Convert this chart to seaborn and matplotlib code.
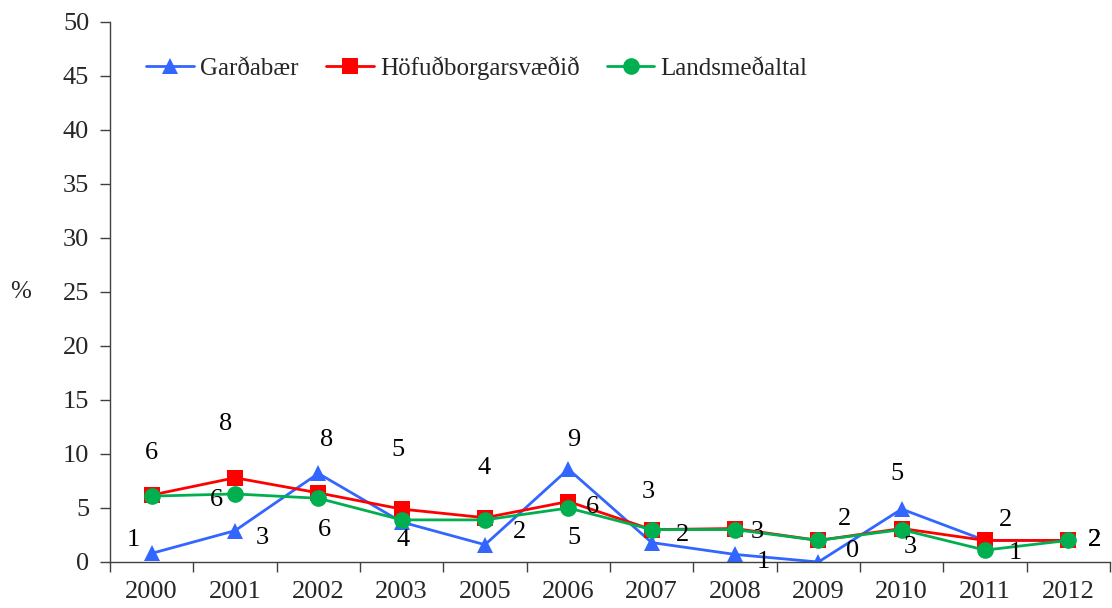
import numpy as np
import pandas as pd
import matplotlib
matplotlib.use("Agg")
import matplotlib.pyplot as plt
import seaborn as sns

years = ["2000", "2001", "2002", "2003", "2005", "2006", "2007", "2008", "2009", "2010", "2011", "2012"]
gardabaer = [0.8, 2.9, 8.2, 3.7, 1.6, 8.6, 1.8, 0.7, 0.0, 4.9, 2.0, 2.0]
hofudborg = [6.2, 7.8, 6.4, 4.9, 4.1, 5.6, 3.0, 3.1, 2.0, 3.1, 2.0, 2.0]
landsmedaltal = [6.1, 6.3, 5.9, 3.9, 3.9, 5.0, 3.0, 3.0, 2.0, 3.0, 1.1, 2.0]
series_names = ["Garðabær", "Höfuðborgarsvæðið", "Landsmeðaltal"]
colors = ["#3366FF", "#FF0000", "#00B050"]
markers = ["^", "s", "o"]

sns.set_theme(style="white")
plt.rcParams["font.family"] = ["Liberation Serif", "DejaVu Serif"]

df = pd.DataFrame({
    "year": years * 3,
    "value": gardabaer + hofudborg + landsmedaltal,
    "series": [series_names[0]] * len(years) + [series_names[1]] * len(years) + [series_names[2]] * len(years),
})

fig = plt.figure(figsize=(11.12, 6.08), dpi=100)
ax = fig.add_axes([110 / 1112, 1 - 562 / 608, 1000 / 1112, 540 / 608])

sns.lineplot(data=df, x="year", y="value", hue="series", style="series",
             palette=colors, markers=markers, dashes=False, markersize=12,
             linewidth=2, markeredgewidth=0, ax=ax, sort=False)

# data labels: (series index, year index, dx px, dy px)
label_layout = [
    (0, 0, -18, 13), (1, 0, 0, 42),
    (1, 1, -9, 54), (2, 1, -19, -6), (0, 1, 27, -7),
    (0, 2, 8, 33), (2, 2, 6, -32),
    (1, 3, -4, 59), (0, 3, 1, -18),
    (1, 4, -1, 50), (0, 4, 34, 13),
    (0, 5, 5, 29), (1, 5, 24, -5), (2, 5, 6, -30),
    (1, 6, -3, 38), (0, 6, 31, 8),
    (1, 7, 22, -3), (0, 7, 28, -8),
    (2, 8, 26, 21), (0, 8, 34, 11),
    (0, 9, -5, 35), (2, 9, 9, -17),
    (1, 10, 21, 20), (2, 10, 30, -3),
    (0, 11, 26, 0), (1, 11, 26, 0), (2, 11, 26, 0),
]
all_series = [gardabaer, hofudborg, landsmedaltal]
for s, i, dx, dy in label_layout:
    v = all_series[s][i]
    ax.annotate(str(int(np.floor(v + 0.5))), xy=(i, v), xytext=(dx, dy),
                textcoords="offset pixels", ha="center", va="center",
                fontsize=19, color="black")

ax.set_ylim(0, 50)
ax.set_xlim(-0.5, len(years) - 0.5)
ax.set_yticks(np.arange(0, 51, 5))
ax.set_xticks(np.arange(len(years)))
ax.set_xticklabels(years)
ax.set_xticks(np.arange(-0.5, len(years), 1), minor=True)
ax.tick_params(axis="x", which="major", length=0, pad=14, labelsize=19)
ax.tick_params(axis="x", which="minor", length=7, width=1, color="#404040", direction="out", bottom=True)
ax.tick_params(axis="y", which="major", length=7, width=1, color="#404040", direction="out", left=True, pad=8, labelsize=19)

ax.set_xlabel("")
ax.set_ylabel("%", rotation=0, fontsize=18, va="center", ha="center")
ax.yaxis.set_label_coords(-0.089, 0.5)

for side in ["top", "right"]:
    ax.spines[side].set_visible(False)
for side in ["left", "bottom"]:
    ax.spines[side].set_color("#404040")
    ax.spines[side].set_linewidth(1)

handles, labels = ax.get_legend_handles_labels()
ax.legend(handles, labels, loc="center", bbox_to_anchor=(0.367, 0.915), ncol=3,
          frameon=False, fontsize=18, handlelength=1.9, columnspacing=1.1,
          handletextpad=0.25, markerscale=1.0)

fig.savefig("out.png", dpi=100)
